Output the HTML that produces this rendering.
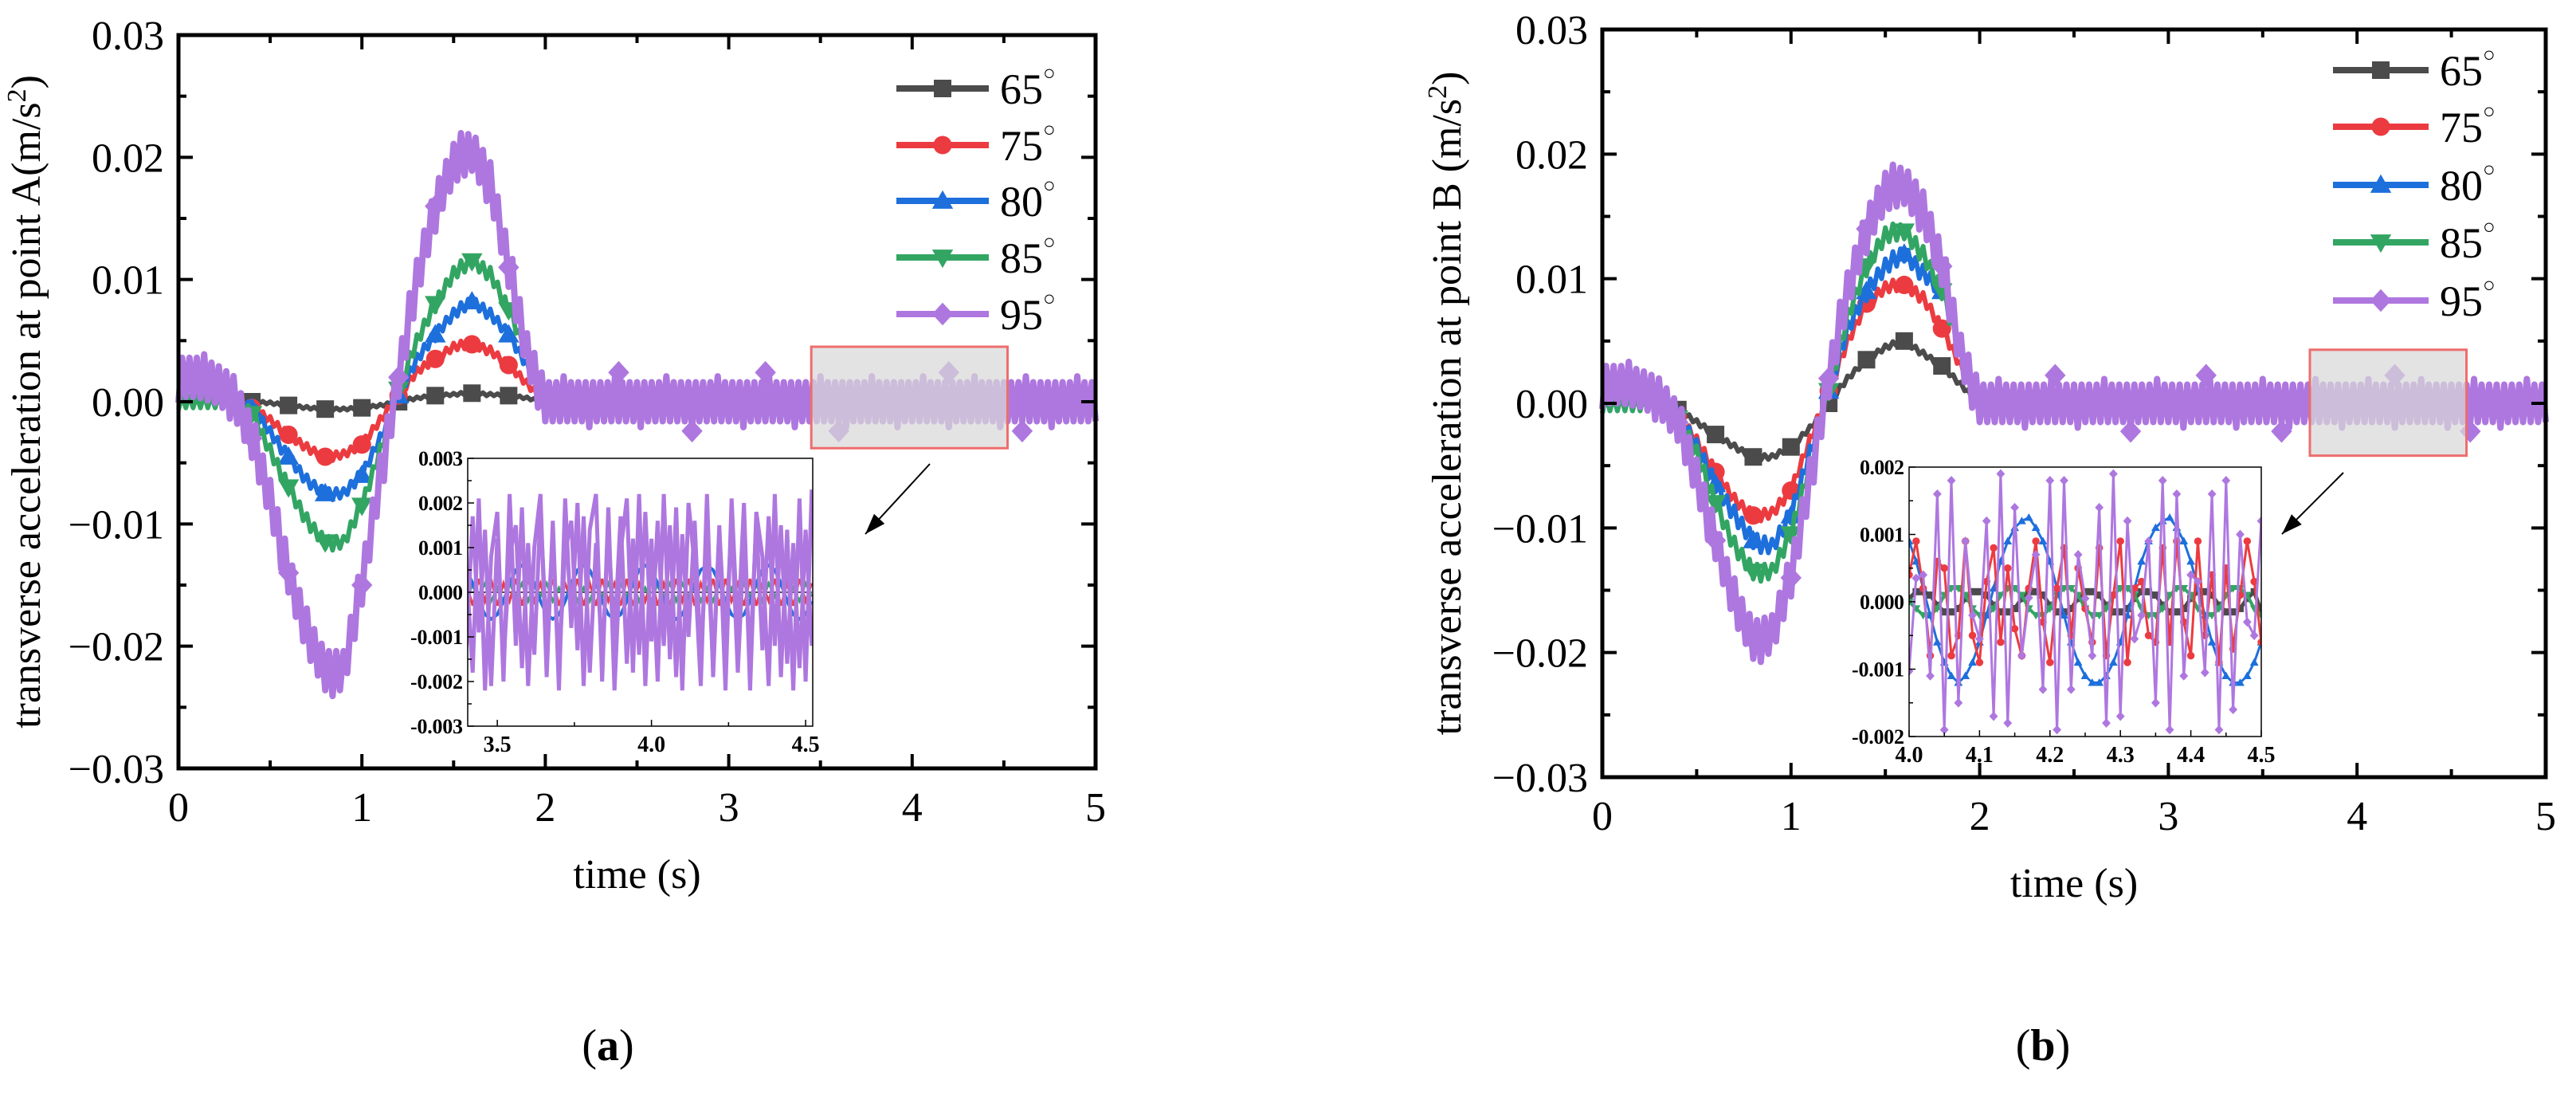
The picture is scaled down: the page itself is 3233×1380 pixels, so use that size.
<!DOCTYPE html>
<html><head><meta charset="utf-8"><style>
body{margin:0;background:#fff}
svg{display:block;font-family:"Liberation Serif",serif}
text{font-family:"Liberation Serif",serif}
</style></head><body>
<svg id="fig" width="3233" height="1380" viewBox="0 0 3233 1380" xmlns="http://www.w3.org/2000/svg" font-family="Liberation Serif, serif"></svg>
<script>
// ---- data ----
const seriesNames = ["65°","75°","80°","85°","95°"];
const mainTimes = [0,0.1,0.2,0.3,0.4,0.5,0.6,0.7,0.8,0.9,1.0,1.1,1.2,1.3,1.4,1.5,1.6,1.7,1.8,1.9,2.0];
const A65 = [0,0,0,0,0,-0.0001,-0.0003,-0.0005,-0.0006,-0.0006,-0.0005,-0.0003,0,0.0003,0.0005,0.0006,0.0007,0.0006,0.0005,0.0003,0];
const A75 = [0,0,0,0,-0.0005,-0.0015,-0.0027,-0.0038,-0.0045,-0.0043,-0.0035,-0.0015,0.0005,0.0025,0.0035,0.0045,0.0047,0.0042,0.003,0.0015,0];
const A80 = [0,0,0,0,-0.0005,-0.0025,-0.0045,-0.0065,-0.0075,-0.0075,-0.006,-0.003,0.0005,0.0035,0.0055,0.0072,0.0082,0.0072,0.0055,0.003,0];
const A85 = [0,0,0,0,-0.001,-0.004,-0.007,-0.0098,-0.0115,-0.0115,-0.0085,-0.004,0.001,0.005,0.008,0.0105,0.0115,0.0105,0.0075,0.004,0];
const A95 = [0.002,0.002,0.0015,0.0005,-0.003,-0.008,-0.014,-0.019,-0.022,-0.022,-0.015,-0.006,0.002,0.01,0.016,0.0195,0.0205,0.018,0.011,0.004,0];
const B65 = [0,0,0,0,-0.0005,-0.0015,-0.0025,-0.0035,-0.0043,-0.0043,-0.0035,-0.002,0,0.002,0.0035,0.0045,0.005,0.004,0.003,0.0015,0];
const B75 = [0,0,0,0,-0.001,-0.003,-0.0055,-0.0078,-0.009,-0.0088,-0.007,-0.003,0.001,0.005,0.008,0.0093,0.0095,0.0085,0.006,0.003,0];
const B80 = [0,0,0,0,-0.001,-0.0035,-0.0065,-0.009,-0.011,-0.0115,-0.009,-0.004,0.001,0.006,0.009,0.011,0.012,0.0105,0.009,0.004,0];
const B85 = [0,0,0,0,-0.0012,-0.004,-0.008,-0.0115,-0.0135,-0.0135,-0.0105,-0.005,0.001,0.007,0.011,0.0135,0.0138,0.012,0.009,0.004,0];
const B95 = [0.0015,0.0015,0.0012,0.0005,-0.0015,-0.006,-0.011,-0.016,-0.019,-0.0185,-0.014,-0.006,0.002,0.009,0.014,0.017,0.0175,0.0155,0.011,0.004,0];
const rippleA = [0.0001,0.0003,0.0004,0.0005,0.0016];
const rippleB = [0.0002,0.0004,0.0006,0.0006,0.0015];
const xTicks = [0,1,2,3,4,5];
const yTicks = [-0.03,-0.02,-0.01,0,0.01,0.02,0.03];
const yTickLabels = ["−0.03","−0.02","−0.01","0.00","0.01","0.02","0.03"];
// inset A (step 0.02 from 3.40)
const insA_start = 3.40, insA_step = 0.02;
const insA95 = [0.0005,-0.0018,0.0021,-0.0022,0.0008,0.0018,-0.0020,0.0022,-0.0012,0.0019,-0.0021,0.0010,0.0022,-0.0019,0.0016,-0.0022,0.0021,-0.0008,0.0020,-0.0021,0.0014,0.0022,-0.0020,0.0019,-0.0022,0.0009,0.0021,-0.0018,0.0022,-0.0021,0.0012,-0.0020,0.0022,-0.0015,0.0019,-0.0022,0.0020,0.0006,-0.0021,0.0022,-0.0019,0.0015,-0.0022,0.0021,-0.0010,0.0020,-0.0022,0.0018,0.0008,-0.0021,0.0022,-0.0019,0.0014,-0.0022,0.0021,-0.0020,0.0023];
const insA95b = [-0.0012,0.0017,-0.0009,0.0014,-0.0021,0.0012,-0.0016,0.0008,0.0015,-0.0017,0.0011,-0.0014,0.0018,-0.0010,0.0012,-0.0016,0.0009,0.0016,-0.0013,0.0017,-0.0018,0.0011,-0.0015,0.0013,-0.0010,0.0017,-0.0016,0.0012,-0.0014,0.0018,-0.0011,0.0016,-0.0012,0.0015,-0.0019,0.0013,-0.0010,0.0016,-0.0015,0.0012,-0.0017,0.0014,-0.0011,0.0016,-0.0018,0.0012,-0.0015,0.0016,-0.0013,0.0017,-0.0012,0.0015,-0.0016,0.0011,-0.0017,0.0014,-0.0012];
const insA80 = [0.0005,0.0002,-0.0002,-0.0005,-0.0006,-0.0005,-0.0002,0.0002,0.0005,0.0006,0.0005,0.0002,-0.0002,-0.0005,-0.0006,-0.0005,-0.0002,0.0002,0.0005,0.0006,0.0005,0.0002,-0.0002,-0.0005,-0.0006,-0.0005,-0.0002,0.0002,0.0005,0.0006,0.0005,0.0002,-0.0002,-0.0005,-0.0006,-0.0005,-0.0002,0.0002,0.0005,0.0006,0.0005,0.0002,-0.0002,-0.0005,-0.0006,-0.0005,-0.0002,0.0002,0.0005,0.0006,0.0005,0.0002,-0.0002,-0.0005,-0.0006,-0.0005,-0.0002];
const insA75 = [0.0002,-0.0003,0.0003,-0.0002,0.0003,-0.0003,0.0002,-0.0002,0.0003,-0.0003,0.0003,-0.0002,0.0002,-0.0003,0.0003,-0.0003,0.0002,-0.0002,0.0003,-0.0003,0.0002,-0.0003,0.0003,-0.0002,0.0002,-0.0003,0.0003,-0.0003,0.0002,-0.0002,0.0003,-0.0003,0.0002,-0.0003,0.0003,-0.0002,0.0003,-0.0003,0.0002,-0.0002,0.0003,-0.0003,0.0003,-0.0002,0.0002,-0.0003,0.0003,-0.0003,0.0002,-0.0002,0.0003,-0.0003,0.0002,-0.0003,0.0003,-0.0002,0.0002];
const insA85 = [-0.0002,0.0002,-0.0001,0.0002,-0.0002,0.0001,-0.0002,0.0002,-0.0001,0.0002,-0.0002,0.0002,-0.0001,0.0002,-0.0002,0.0001,-0.0002,0.0002,-0.0002,0.0001,-0.0002,0.0002,-0.0001,0.0002,-0.0002,0.0002,-0.0001,0.0002,-0.0002,0.0001,-0.0002,0.0002,-0.0001,0.0002,-0.0002,0.0002,-0.0001,0.0002,-0.0002,0.0001,-0.0002,0.0002,-0.0002,0.0001,-0.0002,0.0002,-0.0001,0.0002,-0.0002,0.0002,-0.0001,0.0002,-0.0002,0.0001,-0.0002,0.0002,-0.0001];
const insA65 = [0,0,0,0,0,0,0,0,0,0,0,0,0,0,0,0,0,0,0,0,0,0,0,0,0,0,0,0,0,0,0,0,0,0,0,0,0,0,0,0,0,0,0,0,0,0,0,0,0,0,0,0,0,0,0,0,0];
const insA_xTicks = [3.5,4.0,4.5];
const insA_xLabels = ["3.5","4.0","4.5"];
const insA_yTicks = [-0.003,-0.002,-0.001,0,0.001,0.002,0.003];
const insA_yLabels = ["-0.003","-0.002","-0.001","0.000","0.001","0.002","0.003"];
// inset B (step 0.01 from 4.00)
const insB_start = 4.00, insB_step = 0.01;
const insB95 = [-0.00103,0.00035,0.0004,-0.0011,0.0016,-0.0019,0.0018,-0.0015,0.0009,-0.0002,-0.00055,0.0012,-0.0017,0.0019,-0.0018,0.0014,-0.0008,0.00006,0.0007,-0.0013,0.0018,-0.0019,0.0018,-0.0013,0.0007,0.00005,-0.0008,0.0014,-0.0018,0.0019,-0.0017,0.0012,-0.00055,-0.0002,0.0009,-0.0015,0.0018,-0.0019,0.0016,-0.0011,0.0004,0.0003,-0.00105,0.0016,-0.0019,0.0018,-0.0016,0.001,-0.0003,-0.0005,0.0012];
const insB80 = [0.0009,0.0006,0.0002,-0.0002,-0.0006,-0.0009,-0.0011,-0.0012,-0.0011,-0.0009,-0.0006,-0.0002,0.0002,0.0006,0.0009,0.0011,0.0012,0.00125,0.0011,0.0009,0.0006,0.0002,-0.0002,-0.0006,-0.0009,-0.0011,-0.0012,-0.0012,-0.0011,-0.0009,-0.0006,-0.0002,0.0002,0.0006,0.0009,0.0011,0.0012,0.00125,0.0011,0.0009,0.0006,0.0002,-0.0002,-0.0006,-0.0009,-0.0011,-0.0012,-0.0012,-0.0011,-0.0009,-0.0006];
const insB75 = [0.0004,0.0009,0.0002,-0.0008,0.0006,0.0005,-0.0008,-0.0005,0.0009,-0.0005,-0.0009,0.0003,0.0008,-0.0006,0.0005,-0.0004,-0.0008,0.0002,0.0009,-0.0003,-0.0009,0.0002,0.0008,-0.0005,0.0005,-0.0001,-0.0006,0.0008,-0.0008,0.0001,0.0009,-0.0009,0.0002,0.0003,-0.0005,-0.0006,0.0008,-0.0006,0.0009,-0.0003,-0.0008,0.0009,-0.0005,0.0004,-0.0009,0.0005,-0.0007,0.0001,0.0009,0.0003,-0.0006];
const insB85 = [0,-0.0001,-0.0002,-0.0002,-0.0001,0.0001,0.0002,0.0002,0.0001,-0.0001,-0.0002,-0.0002,-0.0001,0.0001,0.0002,0.0002,0.0001,-0.0001,-0.0002,-0.0002,-0.0001,0.0001,0.0002,0.0002,0.0001,-0.0001,-0.0002,-0.0002,-0.0001,0.0001,0.0002,0.0002,0.0001,-0.0001,-0.0002,-0.0002,-0.0001,0.0001,0.0002,0.0002,0.0001,-0.0001,-0.0002,-0.0002,-0.0001,0.0001,0.0002,0.0002,0.0001,-0.0001,-0.0002];
const insB65 = [0.00005,0.00015,0.00015,0.0001,-0.00005,-0.00015,-0.00015,-0.0001,0.00005,0.00015,0.00015,0.0001,-0.00005,-0.00015,-0.00015,-0.0001,0.00005,0.00015,0.00015,0.0001,-0.00005,-0.00015,-0.00015,-0.0001,0.00005,0.00015,0.00015,0.0001,-0.00005,-0.00015,-0.00015,-0.0001,0.00005,0.00015,0.00015,0.0001,-0.00005,-0.00015,-0.00015,-0.0001,0.00005,0.00015,0.00015,0.0001,-0.00005,-0.00015,-0.00015,-0.0001,0.00005,0.00015,-0.00015];
const insB_xTicks = [4.0,4.1,4.2,4.3,4.4,4.5];
const insB_xLabels = ["4.0","4.1","4.2","4.3","4.4","4.5"];
const insB_yTicks = [-0.002,-0.001,0,0.001,0.002];
const insB_yLabels = ["-0.002","-0.001","0.000","0.001","0.002"];

// ---- drawing ----
const colors = ["#4b4b4b","#ec3b40","#1d6fdc","#33a563","#ae77df"];
const shapes = ["square","circle","up","down","diamond"];
const FONT = "Liberation Serif, serif";
const NS = "http://www.w3.org/2000/svg";
const svg = document.getElementById("fig");
function el(tag, attrs, parent){const e=document.createElementNS(NS,tag);for(const k in attrs)e.setAttribute(k,attrs[k]);if(tag==="text")e.setAttribute("font-family",FONT);(parent||svg).appendChild(e);return e;}
function lin(d0,d1,r0,r1){return v=>r0+(v-d0)*(r1-r0)/(d1-d0);}
function interp(ts,vs,t){if(t>=ts[ts.length-1])return 0;for(let i=0;i<ts.length-1;i++){if(t>=ts[i]&&t<=ts[i+1]){const f=(t-ts[i])/(ts[i+1]-ts[i]);return vs[i]+f*(vs[i+1]-vs[i]);}}return vs[0];}
function marker(g,shape,cx,cy,s,color){
  let m;
  if(shape==="square") m=el("rect",{x:cx-s/2,y:cy-s/2,width:s,height:s,fill:color},g);
  else if(shape==="circle") m=el("circle",{cx:cx,cy:cy,r:s/2*1.05,fill:color},g);
  else if(shape==="up") m=el("polygon",{points:`${cx},${cy-s*0.6} ${cx+s*0.6},${cy+s*0.45} ${cx-s*0.6},${cy+s*0.45}`,fill:color},g);
  else if(shape==="down") m=el("polygon",{points:`${cx},${cy+s*0.6} ${cx+s*0.6},${cy-s*0.45} ${cx-s*0.6},${cy-s*0.45}`,fill:color},g);
  else m=el("polygon",{points:`${cx},${cy-s*0.65} ${cx+s*0.6},${cy} ${cx},${cy+s*0.65} ${cx-s*0.6},${cy}`,fill:color},g);
  return m;
}

function drawPanel(P){
  const X=lin(0,5,P.x0,P.x1), Y=lin(-0.03,0.03,P.y1,P.y0);
  const g=el("g",{});
  
  
  P.series.forEach((vals,si)=>{
    const pts=[];
    let k=0;
    for(let t=0;t<=5.0001;t+=0.02,k++){
      const v=interp(mainTimes,vals,t)+P.ripple[si]*(k%2?1:-1)*(k%7===0?1.3:1);
      pts.push(X(t).toFixed(1)+","+Y(v).toFixed(1));
    }
    const pl=el("polyline",{points:pts.join(" "),fill:"none",stroke:colors[si],"stroke-width":si===4?8:6,"stroke-linejoin":"round"},g);
    
    
    const mt=[0.4,0.6,0.8,1.0,1.2,1.4,1.6,1.8];
    if(si===4){mt.unshift(0.2);mt.push(2.4,2.8,3.2,3.6,4.2,4.6);}
    mt.forEach((t,j)=>{
      const v=interp(mainTimes,vals,t)+(t>2?P.ripple[si]*(j%2?1:-1)*1.5:0);
      const m=marker(g,shapes[si],X(t),Y(v),22,colors[si]);
      
      
    });
  });
  const zb=el("rect",{x:X(P.box[0]),y:Y(P.box[3]),width:X(P.box[1])-X(P.box[0]),height:Y(P.box[2])-Y(P.box[3]),fill:"#d8d8d8","fill-opacity":0.72,stroke:"#ee6d6d","stroke-width":3});
  
  
  const ar=el("line",{x1:P.arrow[0],y1:P.arrow[1],x2:P.arrow[2],y2:P.arrow[3],stroke:"#000","stroke-width":2});
  
  
  const dx=P.arrow[2]-P.arrow[0],dy=P.arrow[3]-P.arrow[1],L=Math.hypot(dx,dy),ux=dx/L,uy=dy/L;
  const hx=P.arrow[2],hy=P.arrow[3],bl=26,bw=9;
  const ah=el("polygon",{points:`${hx},${hy} ${hx-ux*bl-uy*bw},${hy-uy*bl+ux*bw} ${hx-ux*bl+uy*bw},${hy-uy*bl-ux*bw}`,fill:"#000"});
  
  
  const fr=el("rect",{x:P.x0,y:P.y0,width:P.x1-P.x0,height:P.y1-P.y0,fill:"none",stroke:"#000","stroke-width":5});
  
  
  for(let t=0;t<=5.001;t+=0.5){
    const major=Math.abs(t-Math.round(t))<1e-6, len=major?18:10;
    el("line",{x1:X(t),x2:X(t),y1:P.y1,y2:P.y1-len,stroke:"#000","stroke-width":4});
    el("line",{x1:X(t),x2:X(t),y1:P.y0,y2:P.y0+len,stroke:"#000","stroke-width":4});
  }
  for(let i=0;i<=12;i++){
    const v=-0.03+i*0.005, major=i%2===0, len=major?18:10;
    el("line",{x1:P.x0,x2:P.x0+len,y1:Y(v),y2:Y(v),stroke:"#000","stroke-width":4});
    el("line",{x1:P.x1,x2:P.x1-len,y1:Y(v),y2:Y(v),stroke:"#000","stroke-width":4});
  }
  xTicks.forEach(t=>{const tx=el("text",{x:X(t),y:P.y1+66,"font-size":52,"text-anchor":"middle"});tx.textContent=t;
    });
  yTicks.forEach((v,i)=>{const tx=el("text",{x:P.x0-18,y:Y(v)+18,"font-size":52,"text-anchor":"end"});tx.textContent=yTickLabels[i];
    });
  const xt=el("text",{x:(P.x0+P.x1)/2,y:P.y1+150,"font-size":52,"text-anchor":"middle"});xt.textContent="time (s)";
  
  const yt=el("text",{x:0,y:0,"font-size":52,"text-anchor":"middle",transform:`translate(${P.ytx},${(P.y0+P.y1)/2}) rotate(-90)`});
  
  yt.innerHTML=P.ylabel+"(m/s<tspan dy='-18' font-size='34'>2</tspan><tspan dy='18'>)</tspan>";
  P.legendY.forEach((ly,si)=>{
    const lg=el("g",{});
    
    
    el("line",{x1:P.legX[0],x2:P.legX[1],y1:ly,y2:ly,stroke:colors[si],"stroke-width":8},lg);
    marker(lg,shapes[si],(P.legX[0]+P.legX[1])/2,ly,22,colors[si]);
    const tx=el("text",{x:P.legX[1]+14,y:ly+19,"font-size":54},lg);
    tx.innerHTML=seriesNames[si].replace('°','')+"<tspan dy='-30' font-size='26'>○</tspan>";
  });
  drawInset(P.inset);
}

function drawInset(I){
  const X=lin(I.d0,I.d1,I.x0,I.x1), Y=lin(I.yr[0],I.yr[1],I.y1,I.y0);
  const g=el("g",{});
  
  
  el("rect",{x:I.x0,y:I.y0,width:I.x1-I.x0,height:I.y1-I.y0,fill:"#fff"},g);
  const cp=el("clipPath",{id:I.name+"-clip"},g);
  el("rect",{x:I.x0,y:I.y0,width:I.x1-I.x0,height:I.y1-I.y0},cp);
  const sg=el("g",{"clip-path":`url(#${I.name}-clip)`},g);
  I.series.forEach((arr,si)=>{
    const pts=arr.map((v,i)=>X(I.start+i*I.step).toFixed(1)+","+Y(v).toFixed(1));
    const pl=el("polyline",{points:pts.join(" "),fill:"none",stroke:colors[I.order[si]],"stroke-width":I.lw[si]},sg);
    
    
    if(I.markers) arr.forEach((v,i)=>marker(sg,shapes[I.order[si]],X(I.start+i*I.step),Y(v),I.ms,colors[I.order[si]]));
  });
  el("rect",{x:I.x0,y:I.y0,width:I.x1-I.x0,height:I.y1-I.y0,fill:"none",stroke:"#000","stroke-width":1.5},g);
  I.xt.forEach((t,i)=>{
    el("line",{x1:X(t),x2:X(t),y1:I.y1,y2:I.y1-8,stroke:"#000","stroke-width":1.5},g);
    const tx=el("text",{x:X(t),y:I.y1+32,"font-size":28,"font-weight":"bold","text-anchor":"middle"},g);tx.textContent=I.xl[i];
    
  });
  I.xm.forEach(t=>el("line",{x1:X(t),x2:X(t),y1:I.y1,y2:I.y1-5,stroke:"#000","stroke-width":1.5},g));
  I.yt.forEach((v,i)=>{
    el("line",{x1:I.x0,x2:I.x0+8,y1:Y(v),y2:Y(v),stroke:"#000","stroke-width":1.5},g);
    const tx=el("text",{x:I.x0-6,y:Y(v)+9,"font-size":26,"font-weight":"bold","text-anchor":"end",textLength:I.yl[i].length>5?66:56},g);tx.textContent=I.yl[i];
    
  });
  I.ym.forEach(v=>el("line",{x1:I.x0,x2:I.x0+5,y1:Y(v),y2:Y(v),stroke:"#000","stroke-width":1.5},g));
}

drawPanel({name:"panel-a",x0:224,x1:1375,y0:44,y1:964,series:[A65,A75,A80,A85,A95],ripple:rippleA,
  box:[3.45,4.52,-0.0038,0.0045],arrow:[1167,582,1086,670],ytx:50,ylabel:"transverse acceleration at point A",
  legX:[1125,1241],legendY:[111,182,252,323,394],
  inset:{name:"inset-a",x0:587,x1:1020,y0:575,y1:911,d0:3.404,d1:4.523,yr:[-0.003,0.003],start:insA_start,step:insA_step,
    series:[insA65,insA75,insA85,insA80,insA95,insA95b],order:[0,1,3,2,4,4],lw:[2,3,3,4,5,5],markers:false,
    xt:insA_xTicks,xl:insA_xLabels,xm:[3.75,4.25],yt:insA_yTicks,yl:insA_yLabels,ym:[-0.0025,-0.0015,-0.0005,0.0005,0.0015,0.0025]}});
drawPanel({name:"panel-b",x0:2011,x1:3195,y0:37,y1:975,series:[B65,B75,B80,B85,B95],ripple:rippleB,
  box:[3.75,4.58,-0.0042,0.0043],arrow:[2941,593,2864,670],ytx:1833,ylabel:"transverse acceleration at point B ",
  legX:[2928,3048],legendY:[88,159,232,304,377],
  inset:{name:"inset-b",x0:2396,x1:2838,y0:586,y1:924,d0:4.0,d1:4.5,yr:[-0.002,0.002],start:insB_start,step:insB_step,
    series:[insB65,insB85,insB80,insB75,insB95],order:[0,3,2,1,4],lw:[5,4,3,3,3],markers:true,ms:9,
    xt:insB_xTicks,xl:insB_xLabels,xm:[4.05,4.15,4.25,4.35,4.45],yt:insB_yTicks,yl:insB_yLabels,ym:[-0.0015,-0.0005,0.0005,0.0015]}});

[["(a)",763,"a"],["(b)",2564,"b"]].forEach(c=>{
  const t=el("text",{x:c[1],y:1330,"font-size":56,"text-anchor":"middle"});
  
  
  t.innerHTML="(<tspan font-weight='bold'>"+c[2]+"</tspan>)";
});
</script>
</body></html>
